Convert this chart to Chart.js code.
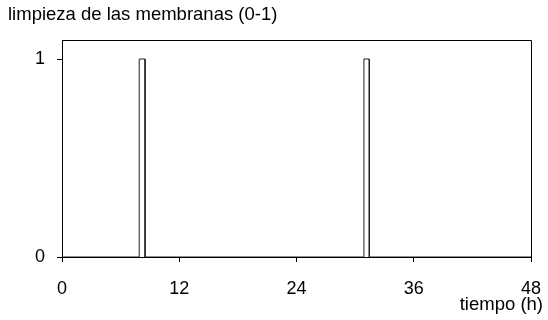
<!DOCTYPE html>
<html>
<head>
<meta charset="utf-8">
<script src="https://cdn.jsdelivr.net/npm/chart.js@4"></script>
<style>
  html, body { margin: 0; padding: 0; background: #fff; }
  #wrap { width: 548px; height: 320px; }
</style>
</head>
<body>
<div id="wrap"><canvas id="chart" width="548" height="320"></canvas></div>
<script>
// membrane cleaning signal (0 = off, 1 = cleaning)
const timeHours = [0, 7.9, 7.9, 8.5, 8.5, 30.9, 30.9, 31.45, 31.45, 48];
const cleaning  = [0, 0,   1,   1,   0,   0,    1,    1,     0,     0];
const xTicks = [0, 12, 24, 36, 48];
const yTicks = [0, 1];
const yTitle = 'limpieza de las membranas (0-1)';
const xTitle = 'tiempo (h)';

const FONT = '"Liberation Sans", Arial, sans-serif';
const SIZE = 18;

// titles drawn as text around the plot
const labelsPlugin = {
    id: 'labels',
    afterDraw(chart) {
        const ctx = chart.ctx;
        ctx.save();
        ctx.fillStyle = '#000';
        ctx.font = '18.5px ' + FONT;
        ctx.textBaseline = 'middle';
        ctx.textAlign = 'left';
        ctx.fillText(yTitle, 8, 15);
        ctx.textAlign = 'right';
        ctx.fillText(xTitle, 543, 305);
        ctx.restore();
    }
};

// frame on top and right of the plot area
const framePlugin = {
    id: 'frame',
    afterDraw(chart) {
        const a = chart.chartArea;
        const ctx = chart.ctx;
        ctx.save();
        ctx.strokeStyle = '#000';
        ctx.lineWidth = 1;
        ctx.beginPath();
        ctx.moveTo(a.left, a.top + 0.5);
        ctx.lineTo(a.right + 0.5, a.top + 0.5);
        ctx.lineTo(a.right + 0.5, a.bottom + 5);
        ctx.stroke();
        ctx.restore();
    }
};

const points = timeHours.map((t, i) => ({ x: t, y: cleaning[i] }));

new Chart(document.getElementById('chart'), {
    type: 'line',
    data: {
        datasets: [{
            data: points,
            borderColor: '#222',
            borderWidth: 1,
            pointRadius: 0,
            fill: false,
            tension: 0
        }]
    },
    options: {
        responsive: false,
        animation: false,
        layout: { padding: { top: 40, right: 17, left: 0, bottom: 0 } },
        plugins: { legend: { display: false }, tooltip: { enabled: false } },
        scales: {
            x: {
                type: 'linear',
                min: 0,
                max: 48,
                afterFit(scale) {
                    scale.height = 63;
                    scale.paddingLeft = 0;
                    scale.paddingRight = 0;
                },
                afterBuildTicks(scale) { scale.ticks = xTicks.map(v => ({ value: v })); },
                grid: { drawOnChartArea: false, tickLength: 5, color: '#000' },
                border: { color: '#000', width: 1 },
                ticks: { color: '#000', font: { family: FONT, size: SIZE }, padding: 16, maxRotation: 0 }
            },
            y: {
                min: 0,
                max: 1.096,
                afterFit(scale) {
                    scale.width = 62;
                    scale.paddingTop = 0;
                    scale.paddingBottom = 0;
                },
                afterBuildTicks(scale) { scale.ticks = yTicks.map(v => ({ value: v })); },
                grid: { drawOnChartArea: false, tickLength: 5, color: '#000' },
                border: { color: '#000', width: 1 },
                ticks: { color: '#000', font: { family: FONT, size: SIZE }, padding: 12 }
            }
        }
    },
    plugins: [labelsPlugin, framePlugin]
});
</script>
</body>
</html>
